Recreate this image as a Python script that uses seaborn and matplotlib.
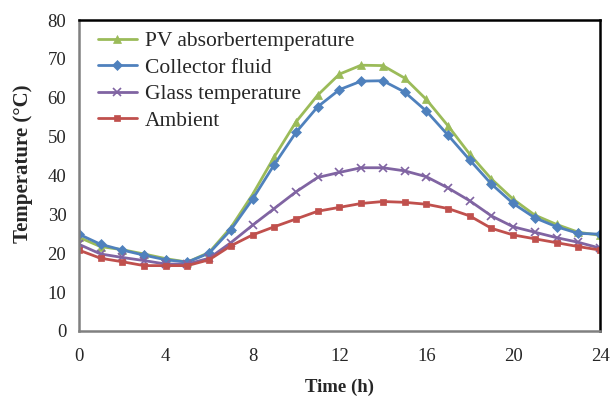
import numpy as np
import pandas as pd
import matplotlib
matplotlib.use("Agg")
import matplotlib.pyplot as plt
import seaborn as sns

hours = list(range(25))
pv_absorber = [24.1, 21.7, 20.9, 19.8, 18.6, 17.7, 20.2, 26.6, 35.1, 44.8, 53.8, 60.7, 66.1,
               68.4, 68.3, 65.1, 59.6, 52.8, 45.5, 39.1, 33.9, 29.8, 27.4, 25.4, 24.6]
collector_fluid = [24.9, 22.3, 20.8, 19.5, 18.3, 17.7, 20.0, 26.0, 33.9, 42.8, 51.1, 57.7, 62.1,
                   64.3, 64.4, 61.5, 56.6, 50.4, 44.0, 37.8, 32.8, 29.1, 26.8, 25.1, 24.9]
glass_temp = [22.3, 19.8, 18.9, 18.1, 17.2, 17.2, 18.7, 22.7, 27.2, 31.5, 35.8, 39.5, 40.8,
              42.0, 42.0, 41.2, 39.7, 36.8, 33.5, 29.6, 26.8, 25.4, 24.0, 22.8, 21.3]
ambient = [20.8, 18.7, 17.8, 16.8, 16.8, 16.8, 18.3, 21.9, 24.7, 26.8, 28.8, 30.8, 31.8,
           32.8, 33.3, 33.1, 32.6, 31.5, 29.6, 26.4, 24.7, 23.7, 22.7, 21.7, 20.8]

series_names = ["PV absorbertemperature", "Collector fluid", "Glass temperature", "Ambient"]
series_values = [pv_absorber, collector_fluid, glass_temp, ambient]
colors = ["#9BBB59", "#4F81BD", "#8064A2", "#C0504D"]
markers = ["^", "D", "x", "s"]
msizes = [6, 5, 6, 5]

sns.set_style("white")
plt.rcParams["font.family"] = ["Liberation Serif", "DejaVu Serif"]

fig = plt.figure(figsize=(6.11, 4.03), dpi=100)
ax = fig.add_axes([0.129, 0.179, 0.853, 0.771])

for name, vals, c, m, ms in zip(series_names, series_values, colors, markers, msizes):
    df = pd.DataFrame({"Time": hours, "Temp": vals})
    sns.lineplot(data=df, x="Time", y="Temp", ax=ax, color=c, marker=m, markersize=ms,
                 markeredgecolor=c, markeredgewidth=1.2 if m == "x" else 0.5,
                 linewidth=2, label=name)

ax.set_xlim(0, 24)
ax.set_ylim(0, 80)
ax.set_xticks(range(0, 25, 4))
ax.set_yticks(range(0, 81, 10))
ax.set_xlabel("Time (h)", fontsize=13.5, fontweight="bold", labelpad=10)
ax.set_ylabel("Temperature (\u00b0C)", fontsize=15, fontweight="bold")
ax.yaxis.set_label_coords(-0.088, 0.537)
ax.tick_params(axis="both", labelsize=13.5, direction="out", length=5, width=1.5,
               color="#808080", pad=4)
ax.tick_params(axis="x", pad=7)

for s in ["left", "bottom"]:
    ax.spines[s].set_color("#808080")
    ax.spines[s].set_linewidth(1.8)
for s in ["top", "right"]:
    ax.spines[s].set_color("black")
    ax.spines[s].set_linewidth(1.8)

ax.legend(loc="upper left", frameon=False, fontsize=15.5, handlelength=1.8,
          labelspacing=0.3, borderaxespad=0.0, handletextpad=0.4,
          bbox_to_anchor=(0.02, 0.992))

fig.savefig("out.png", dpi=100)
